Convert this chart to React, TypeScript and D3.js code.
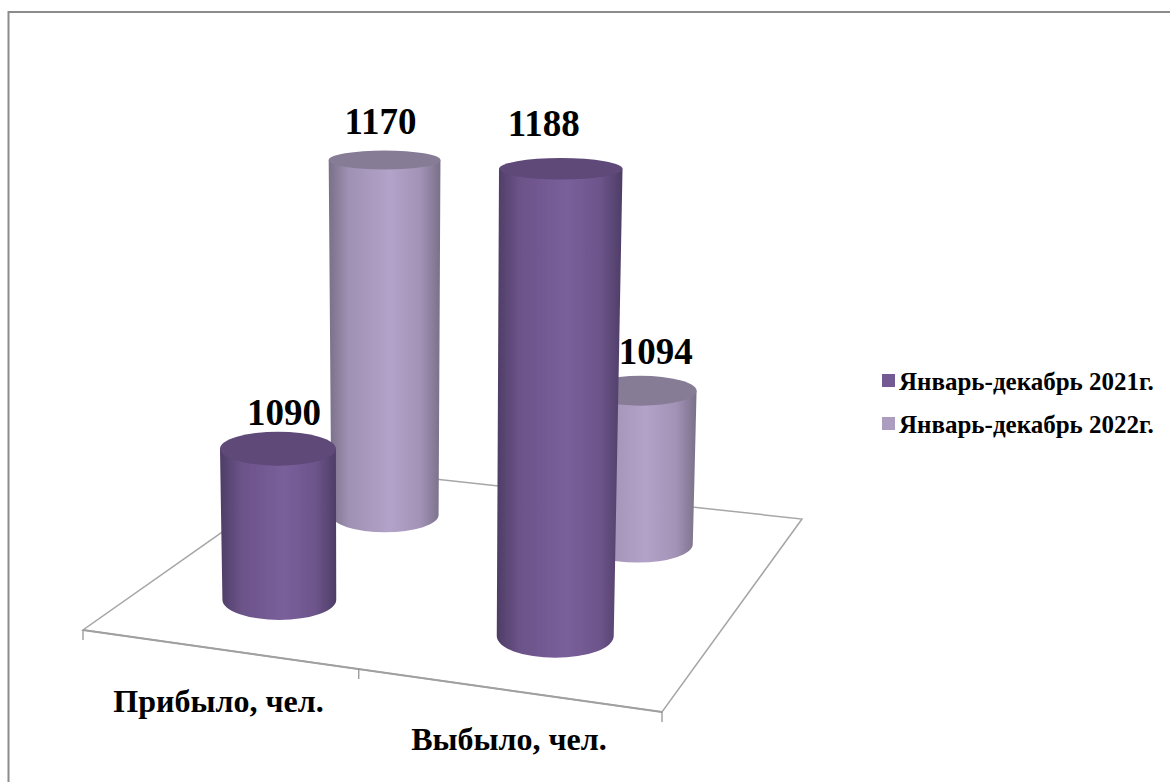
import React from "react";
import * as d3 from "d3";

const categories = ["Прибыло, чел.", "Выбыло, чел."];
const seriesNames = ["Январь-декабрь 2021г.", "Январь-декабрь 2022г."];
const values2021 = [1090, 1188];
const values2022 = [1170, 1094];

const legendColors = ["#745a93", "#ab9cc0"];
const shades = [
  { edge: "#4e3d66", mid: "#7a5f9b", top: "#5e4878" },
  { edge: "#7a7089", mid: "#b3a2c9", top: "#867c96" },
];
// label offset from the centre of each cylinder top, per series then category
const labelShift = [
  [[6, -24], [-17, -33]],
  [[-4, -26], [15, -27]],
];

// floor corners as they appear on the picture
const floor = { fl: [83, 630], fr: [662, 712], br: [802, 519], bl: [316, 466] };

function makeFloor() {
  const { fl, fr, br, bl } = floor;
  const dx1 = fr[0] - br[0], dy1 = fr[1] - br[1];
  const dx2 = bl[0] - br[0], dy2 = bl[1] - br[1];
  const sx = fl[0] - fr[0] + br[0] - bl[0], sy = fl[1] - fr[1] + br[1] - bl[1];
  const den = dx1 * dy2 - dx2 * dy1;
  const g = (sx * dy2 - dx2 * sy) / den;
  const h = (dx1 * sy - sx * dy1) / den;
  const a = fr[0] - fl[0] + g * fr[0], b = bl[0] - fl[0] + h * bl[0];
  const d = fr[1] - fl[1] + g * fr[1], e = bl[1] - fl[1] + h * bl[1];
  return (u: number, v: number) => {
    const w = 1 + g * u + h * v;
    return { x: (a * u + b * v + fl[0]) / w, y: (d * u + e * v + fl[1]) / w, w };
  };
}

export default function App() {
  const project = makeFloor();
  const xBand = d3.scaleBand<number>().domain([0, 1]).range([0, 1]);
  const depth = d3.scaleBand<number>().domain([0, 1]).range([0, 1]);
  const rise = d3.scaleLinear().domain([1040, 1188]).range([0, 461]);
  // ellipses open up the further they sit below eye level
  const flat = d3.scaleLinear().domain([158, 635]).range([0.17, 0.37]);

  const bars = [values2021, values2022]
    .flatMap((vals, s) =>
      vals.map((value, c) => {
        const p = project(xBand(c)! + xBand.bandwidth() / 2, depth(s)! + depth.bandwidth() / 2);
        const height = rise(value) / p.w;
        const rb = 58 / Math.pow(p.w, 0.6);
        const rt = rb * (1 + height * 0.00012);
        const lean = (p.x - 400) * height * 0.000076;
        return { value, s, c, x: p.x, y: p.y, rb, rt, tx: p.x + lean, top: p.y - height };
      })
    )
    // back row first, then left to right
    .sort((a, b) => b.s - a.s || a.c - b.c);

  const cylinder = (b: (typeof bars)[number]) => {
    const ry = b.rb * flat(b.y);
    return `M${b.tx - b.rt},${b.top}L${b.x - b.rb},${b.y}A${b.rb},${ry} 0 0 0 ${b.x + b.rb},${b.y}L${b.tx + b.rt},${b.top}Z`;
  };

  const tickPts = [0, 0.5, 1].map((u) => project(u, 0));

  return (
    <svg
      width={1170}
      height={782}
      style={{ position: "fixed", left: 0, top: 0, display: "block", background: "#fff" }}
      fontFamily="'Liberation Serif', serif"
      fontWeight="bold"
    >
      <defs>
        {shades.map((c, i) => (
          <linearGradient id={`cyl${i}`} key={i} x1="0" x2="1" y1="0" y2="0">
            <stop offset="0" stopColor={c.edge} />
            <stop offset="0.18" stopColor={d3.interpolateRgb(c.edge, c.mid)(0.65)} />
            <stop offset="0.55" stopColor={c.mid} />
            <stop offset="0.82" stopColor={d3.interpolateRgb(c.edge, c.mid)(0.7)} />
            <stop offset="1" stopColor={c.edge} />
          </linearGradient>
        ))}
        <filter id="soft" x="-5%" y="-5%" width="110%" height="110%">
          <feGaussianBlur stdDeviation="0.7" />
        </filter>
      </defs>

      <path d="M8.5,782V12H1170" fill="none" stroke="#8c8c8c" strokeWidth={2} />

      <polygon
        points={[floor.fl, floor.fr, floor.br, floor.bl].map((p) => p.join(",")).join(" ")}
        fill="none"
        stroke="#a6a6a6"
        strokeWidth={1.5}
      />
      <line x1={floor.fl[0]} y1={floor.fl[1]} x2={floor.fr[0]} y2={floor.fr[1]} stroke="#a0a0a0" strokeWidth={2} />
      {tickPts.map((p, i) => (
        <line key={i} x1={p.x} x2={p.x} y1={p.y} y2={p.y + 10} stroke="#8c8c8c" strokeWidth={1.2} />
      ))}

      {bars.map((b) => (
        <g key={`${b.s}-${b.c}`} filter="url(#soft)">
          <path d={cylinder(b)} fill={`url(#cyl${b.s})`} />
          <ellipse cx={b.tx} cy={b.top} rx={b.rt} ry={b.rt * flat(b.top)} fill={shades[b.s].top} />
        </g>
      ))}

      {bars.map((b) => (
        <text
          key={`l${b.s}-${b.c}`}
          x={b.tx + labelShift[b.s][b.c][0]}
          y={b.top + labelShift[b.s][b.c][1]}
          textAnchor="middle"
          fontSize={37}
          fill="#000"
        >
          {b.value}
        </text>
      ))}

      {categories.map((name, i) => (
        <text key={name} x={[218.5, 509][i]} y={[712, 750][i]} textAnchor="middle" fontSize={32} fill="#000">
          {name}
        </text>
      ))}

      {seriesNames.map((name, i) => (
        <g key={name} transform={`translate(882,${374 + i * 43})`}>
          <rect width={13} height={13} fill={legendColors[i]} />
          <text x={17} y={16} fontSize={25} fill="#000">
            {name}
          </text>
        </g>
      ))}
    </svg>
  );
}
